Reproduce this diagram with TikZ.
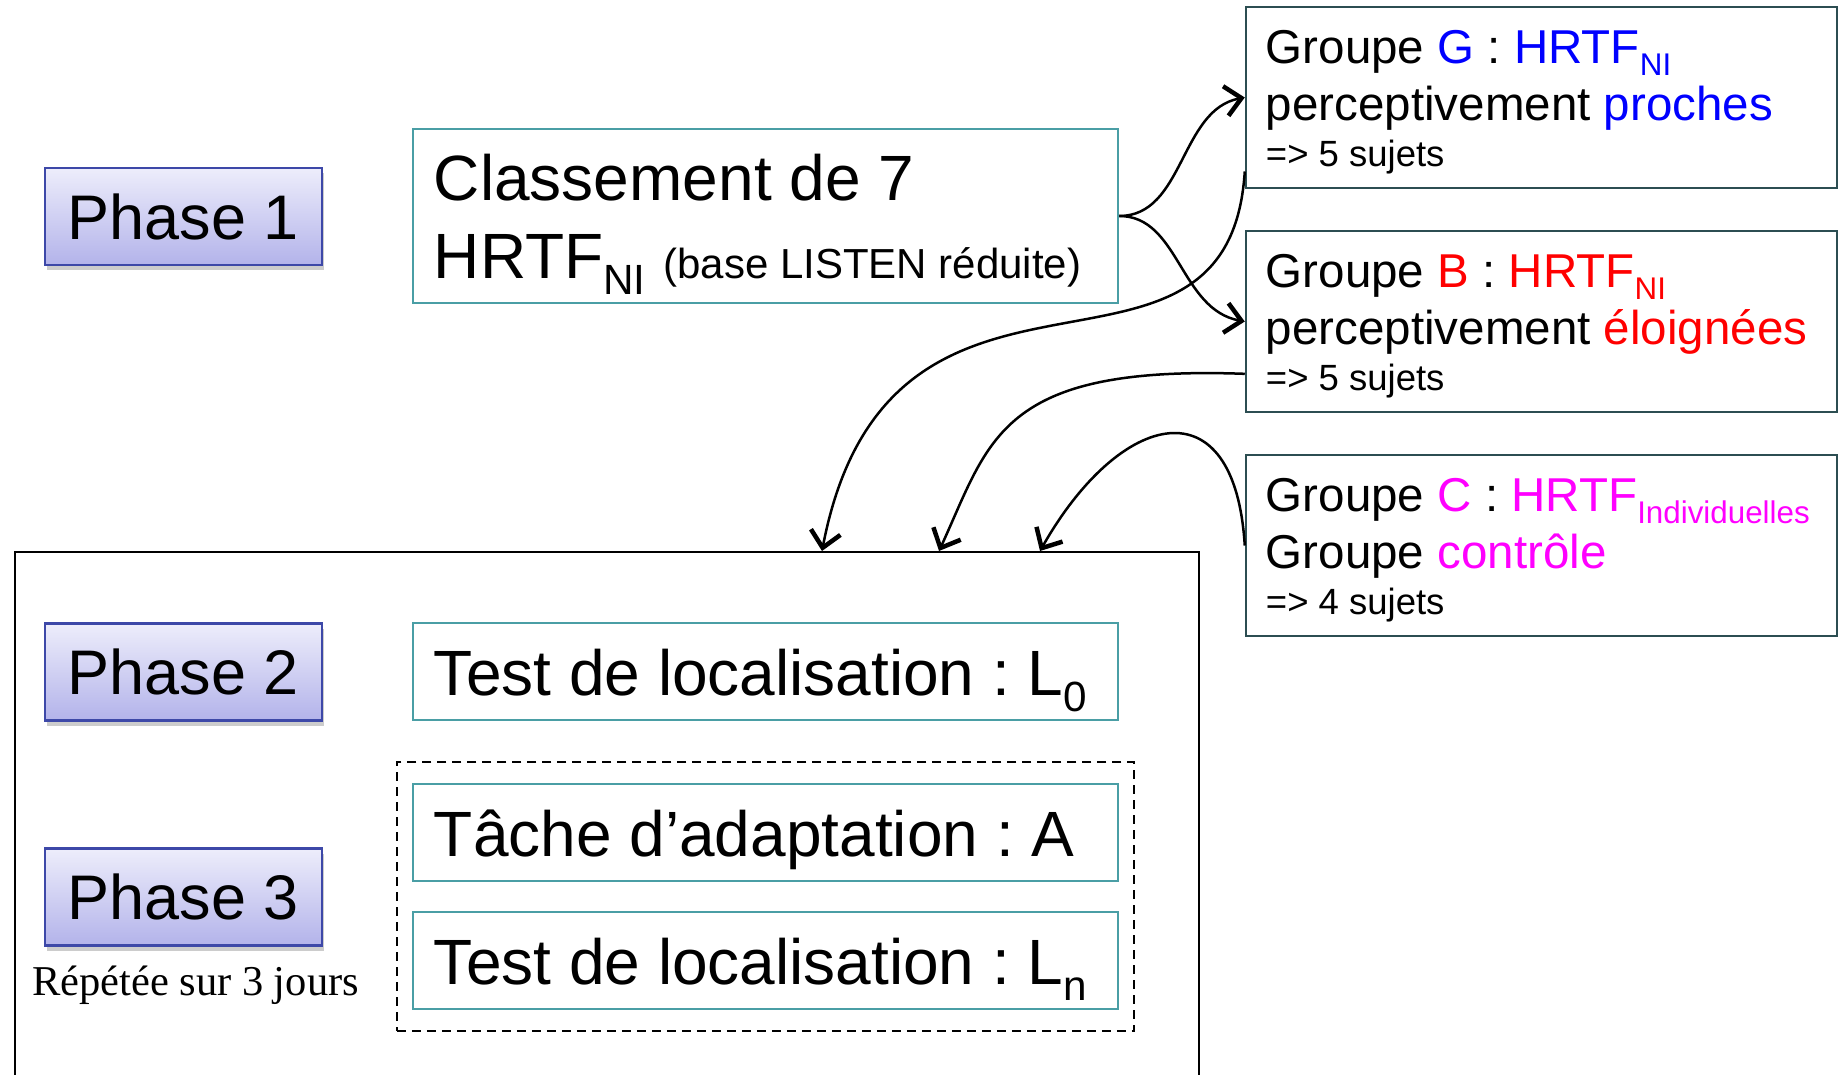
\documentclass[tikz,border=0pt]{standalone}
\usepackage{fontspec}
\setmainfont{Liberation Sans}
\newfontfamily\seriffont{Liberation Serif}
\usetikzlibrary{arrows.meta,shadows,fit,calc,positioning}
\frenchspacing

\definecolor{phasetop}{HTML}{EDEDFB}
\definecolor{phasebottom}{HTML}{B3B3EA}
\definecolor{phaseline}{HTML}{3D48A8}
\definecolor{taskline}{HTML}{4A9EA5}
\definecolor{groupline}{HTML}{2C4E52}
\definecolor{grpblue}{HTML}{0000FF}
\definecolor{grpred}{HTML}{FF0000}
\definecolor{grpmagenta}{HTML}{FF00FF}

\newcommand{\bigfont}{\fontsize{64}{76}\selectfont}
\newcommand{\grpfont}{\fontsize{47.5}{56}\selectfont}
\newcommand{\smallfont}{\fontsize{36.5}{44}\selectfont}
\makeatletter
\newcommand{\lowsub}[1]{\raisebox{-0.25em}{\fontsize{\strip@pt
  \dimexpr0.66\dimexpr\f@size pt\relax\relax}{0}\selectfont#1}}
\makeatother

\tikzset{
  phasebox/.style={draw=phaseline, line width=2.5pt, top color=phasetop,
    bottom color=phasebottom, minimum width=277pt, minimum height=97pt,
    drop shadow={shadow xshift=2pt, shadow yshift=-5pt, opacity=0.4},
    font=\fontsize{63}{76}\selectfont},
  taskbox/.style={draw=taskline, line width=2.5pt, minimum width=705pt,
    minimum height=97pt},
  groupbox/.style={draw=groupline, line width=2.5pt, minimum width=591pt,
    minimum height=181pt},
  tasktext/.style={anchor=base west, inner sep=0pt, font=\bigfont},
  grouptext/.style={anchor=base west, inner sep=0pt, font=\grpfont},
  linkarrow/.style={line width=2.5pt,
    -{Straight Barb[length=16pt,width=30pt,line width=4.5pt]}},
}

\begin{document}
\begin{tikzpicture}[x=1pt, y=-1pt]
\useasboundingbox (0,0) rectangle (1841,1075);

% session frame (phases 2 and 3)
\path (14,551) node (session) [draw, line width=2pt, anchor=north west,
    minimum width=1184pt, minimum height=540pt] {};

% phase 1
\path (183.5,216.5) node (phaseone) [phasebox] {Phase 1};
\path (765.5,216) node (classement) [taskbox, minimum height=174pt] {};
\path (classement.north west) ++(22,73) node (classementa) [tasktext]
  {Classement de 7};
\path (classement.north west) ++(22,151) node (classementb) [tasktext]
  {HRTF\lowsub{NI} {\fontsize{42}{50}\selectfont(base LISTEN réduite)}};

% groups
\path (1541.5,97.5) node (groupG) [groupbox] {};
\path (groupG.north west) ++(21,58) node (groupGa) [grouptext]
  {Groupe \textcolor{grpblue}{G} : \textcolor{grpblue}{HRTF\lowsub{NI}}};
\path (groupG.north west) ++(21,115) node (groupGb) [grouptext]
  {perceptivement \textcolor{grpblue}{proches}};
\path (groupG.north west) ++(21,161) node (groupGc) [grouptext, font=\smallfont]
  {=> 5 sujets};

\path (1541.5,321.5) node (groupB) [groupbox] {};
\path (groupB.north west) ++(21,58) node (groupBa) [grouptext]
  {Groupe \textcolor{grpred}{B} : \textcolor{grpred}{HRTF\lowsub{NI}}};
\path (groupB.north west) ++(21,115) node (groupBb) [grouptext]
  {perceptivement \textcolor{grpred}{éloignées}};
\path (groupB.north west) ++(21,161) node (groupBc) [grouptext, font=\smallfont]
  {=> 5 sujets};

\path (1541.5,545.5) node (groupC) [groupbox] {};
\path (groupC.north west) ++(21,58) node (groupCa) [grouptext]
  {Groupe \textcolor{grpmagenta}{C} :
   \textcolor{grpmagenta}{HRTF\lowsub{Individuelles}}};
\path (groupC.north west) ++(21,115) node (groupCb) [grouptext]
  {Groupe \textcolor{grpmagenta}{contrôle}};
\path (groupC.north west) ++(21,161) node (groupCc) [grouptext, font=\smallfont]
  {=> 4 sujets};

% phase 2
\path (183.5,672) node (phasetwo) [phasebox] {Phase 2};
\path (765.5,671.5) node (testzero) [taskbox] {};
\path (testzero.north west) ++(22,74) node (testzerotext) [tasktext]
  {Test de localisation : L\lowsub{0}};

% phase 3
\path (183.5,897) node (phasethree) [phasebox] {Phase 3};
\path (phasethree.south) ++(12,49) node (repetee) [anchor=base, inner sep=0pt,
  font=\seriffont\fontsize{42.5}{50}\selectfont] {Répétée sur 3 jours};
\path (765.5,832.5) node (tache) [taskbox] {};
\path (tache.north west) ++(22,74) node (tachetext) [tasktext]
  {Tâche d’adaptation : A};
\path (765.5,960.5) node (testn) [taskbox] {};
\path (testn.north west) ++(22,74) node (testntext) [tasktext]
  {Test de localisation : L\lowsub{n}};
\node (repeatbox) [draw, line width=2pt, dash pattern=on 9pt off 6pt,
  fit=(tache)(testn), inner xsep=15pt, inner ysep=21pt] {};

% classement to groups
\draw [linkarrow] (classement.east)
  .. controls +(65,0) and +(-65,12) .. (groupG.west);
\draw [linkarrow] (classement.east)
  .. controls +(60,0) and +(-65,-12) .. (groupB.west);

% groups to session
\coordinate (sessionG) at ($(session.north west)+(808,0)$);
\coordinate (sessionB) at ($(session.north west)+(925,0)$);
\coordinate (sessionC) at ($(session.north west)+(1026,0)$);
\draw [linkarrow] (groupG.194)
  .. controls +(-16,257) and +(68,-351) .. (sessionG);
\draw [linkarrow] (groupB.190)
  .. controls +(-246,-9) and +(51,-111) .. (sessionB);
\draw [linkarrow] (groupC.west)
  .. controls +(-10,-164) and +(80,-141) .. (sessionC);

\end{tikzpicture}
\end{document}
